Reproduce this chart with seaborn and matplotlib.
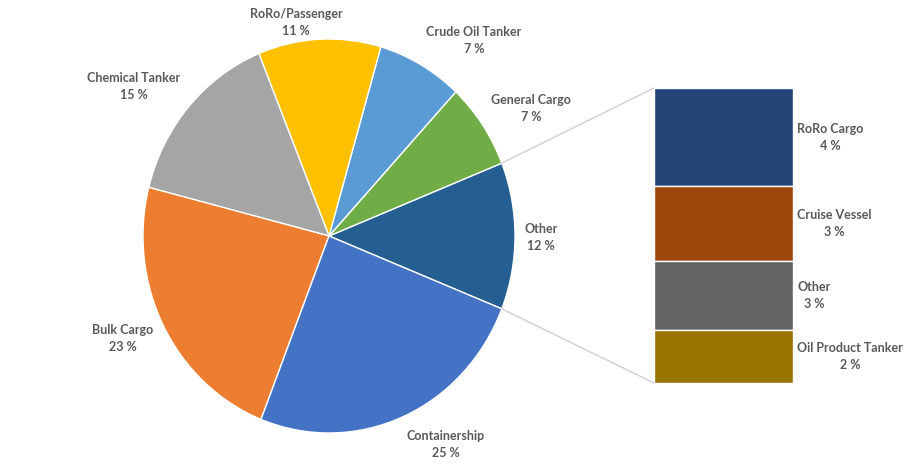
import numpy as np
import matplotlib.pyplot as plt
import seaborn as sns
from matplotlib.patches import ConnectionPatch

# ================================
# Data
# ================================
bar_labels = ["RoRo Cargo", "Cruise Vessel", "Other", "Oil Product Tanker"]
bar_values = [4.0, 3.05, 2.8, 2.15]
bar_colors = ["#264478", "#9E480E", "#636363", "#997300"]

pie_labels = ["Other", "General Cargo", "Crude Oil Tanker", "RoRo/Passenger",
              "Chemical Tanker", "Bulk Cargo", "Containership"]
pie_values = [sum(bar_values), 7.0, 7.4, 10.6, 14.8, 22.9, 24.8]
pie_colors = ["#255E91", "#70AD47", "#5B9BD5", "#FFC000",
              "#A5A5A5", "#ED7D31", "#4472C4"]

# label positions around the pie (pie data coords)
pie_label_pos = [(1.14, -0.01), (1.086, 0.647), (0.78, 0.99), (-0.177, 1.084),
                 (-1.048, 0.759), (-1.108, -0.518), (0.629, -1.058)]

sns.set_theme(style="white")
plt.rcParams["font.family"] = ["Lato", "DejaVu Sans"]
text_color = "#595959"

W, H = 914, 465
fig = plt.figure(figsize=(W / 100, H / 100), dpi=100)

# ================================
# Pie
# ================================
ax_pie = fig.add_axes([143 / W, (H - 433) / H, 372 / W, 394 / H])
start = -pie_values[0] / sum(pie_values) * 360 / 2
ax_pie.pie(pie_values, colors=pie_colors, startangle=start, counterclock=True,
           wedgeprops=dict(edgecolor="white", linewidth=1))
ax_pie.set_aspect("auto")
ax_pie.set_xlim(-1, 1)
ax_pie.set_ylim(-1, 1)
ax_pie.axis("off")

for name, val, (lx, ly) in zip(pie_labels, pie_values, pie_label_pos):
    ax_pie.text(lx, ly, f"{name}\n{val:.0f} %", ha="center", va="center",
                fontsize=9, fontweight="bold", color=text_color,
                linespacing=1.5, clip_on=False)

# ================================
# Bar of pie
# ================================
ax_bar = fig.add_axes([654 / W, (H - 383) / H, 139 / W, 295 / H])
total = sum(bar_values)
tops = total - np.cumsum([0] + bar_values[:-1])
for name, val, top, col in zip(bar_labels, bar_values, tops, bar_colors):
    ax_bar.bar(0.5, val, bottom=top - val, width=1, color=col,
               edgecolor="white", linewidth=1)
    ax_bar.text(1.03, top - val / 2, f"{name}\n{val:.0f} %", ha="left",
                va="center", multialignment="center", fontsize=9,
                fontweight="bold", color=text_color, linespacing=1.5,
                clip_on=False)
ax_bar.set_xlim(0, 1)
ax_bar.set_ylim(0, total)
ax_bar.axis("off")

# connector lines
ang = np.deg2rad(-start)
for sign, yb in [(1, total), (-1, 0)]:
    con = ConnectionPatch(xyA=(np.cos(ang), sign * np.sin(ang)), coordsA=ax_pie.transData,
                          xyB=(0, yb), coordsB=ax_bar.transData,
                          color="#D0D0D0", linewidth=1)
    fig.add_artist(con)

plt.savefig("out.png", dpi=100)
